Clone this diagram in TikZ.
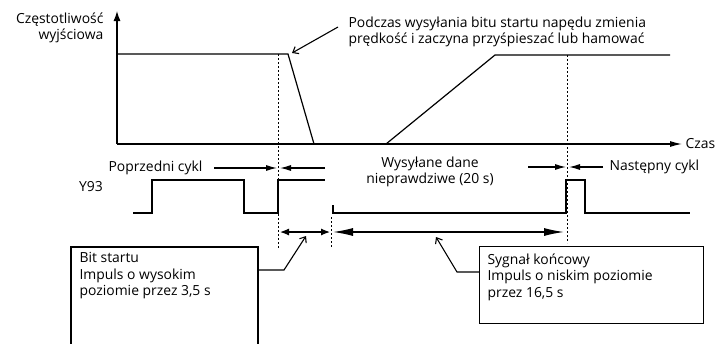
\documentclass[tikz,border=0pt]{standalone}
\usepackage{fontspec}
\setmainfont{Open Sans}
\usetikzlibrary{arrows.meta}

\tikzset{
  txt/.style={font=\fontsize{13.9}{16.5}\selectfont, inner sep=0pt},
  marker/.style={line width=1pt, dash pattern=on 2pt off 2pt},
  pointer/.style={-{Straight Barb[length=5pt,width=8pt]}, line width=1.1pt},
  phase/.style={-{Latex[length=11pt,width=6pt]}},
}

\begin{document}
\begin{tikzpicture}[x=1pt, y=-1pt, line width=1.2pt, line join=miter]
  \useasboundingbox (0,0) rectangle (717,343);

  % Axes
  \coordinate (O) at (117,144);
  \coordinate (ytop) at (117,11);
  \coordinate (xend) at (682,144);
  \draw [-{Latex[length=10pt,width=7pt]}] (O) -- (ytop);
  \draw [-{Latex[length=12pt,width=6pt]}] (O) -- (xend);
  \node [txt, anchor=east, align=right] (freq) at (104,28) {Częstotliwość\\wyjściowa};
  \node [txt, anchor=west] (czas) at (685,144) {Czas};

  % Output frequency
  \coordinate (decel) at (288,54);
  \draw (117,54) -- (decel) -- (314,144);
  \draw (386,144) -- (495,55) -- (670,55);

  % Markers
  \coordinate (bit) at (278,54);
  \coordinate (stop) at (567,55);
  \draw [marker] (bit) -- (278,248);
  \draw [marker] (stop) -- (567,243);
  \draw [marker] (331,217) -- (331,248);

  % Note at the top
  \node [txt, anchor=west, align=left] (note) at (348,32)
    {Podczas wysyłania bitu startu napędu zmienia\\prędkość i zaczyna przyśpieszać lub hamować};
  \draw [pointer] (338,27) -- (292,53);

  % Cycles
  \node [txt, anchor=east] (prev) at (203,168) {Poprzedni cykl};
  \node [txt, anchor=west] (next) at (609,167) {Następny cykl};
  \node [txt, align=center] (data) at (430,172) {Wysyłane dane\\nieprawdziwe (20 s)};
  \draw [phase] (214,168) -- (277,168);
  \draw [phase] (325,168) -- (280,168);
  \draw [phase] (528,167) -- (566,167);
  \draw [phase] (603,167) -- (569,167);

  % Y93 signal
  \node [txt] (y93) at (91,187) {Y93};
  \draw (133,213) -- (152,213) -- (152,180) -- (244,180) -- (244,213)
        -- (278,213) -- (278,180) -- (325,180);
  \draw (333,205) -- (333,213) -- (566,213) -- (566,180) -- (585,180)
        -- (585,213) -- (690,213);

  % Durations
  \coordinate (a1) at (280,232);
  \coordinate (a2) at (330,232);
  \coordinate (b1) at (333,232);
  \coordinate (b2) at (564,232);
  \draw [{Latex[length=9pt,width=7pt]}-{Latex[length=9pt,width=7pt]}] (a1) -- (a2);
  \draw [{Latex[length=20pt,width=8pt]}-{Latex[length=20pt,width=8pt]}] (b1) -- (b2);

  % Boxes
  \draw (71,345) -- (71,247) -- (258,247) -- (258,345);
  \node [txt, anchor=north west, align=left] (startbit) at (79,252)
    {Bit startu\\Impuls o wysokim\\poziomie przez 3,5 s};
  \node [draw, minimum width=224pt, minimum height=77pt, anchor=north west,
         inner sep=0pt] (stopbox) at (479,246) {};
  \node [txt, anchor=north west, align=left] (stopsig) at (487,253)
    {Sygnał końcowy\\Impuls o niskim poziomie\\przez 16,5 s};

  % Leaders
  \draw [pointer] (258,270) -- (284,270) -- (306,236);
  \draw [pointer] (stopbox.west |- 0,272) -- (457,272) -- (436,237);
\end{tikzpicture}
\end{document}
